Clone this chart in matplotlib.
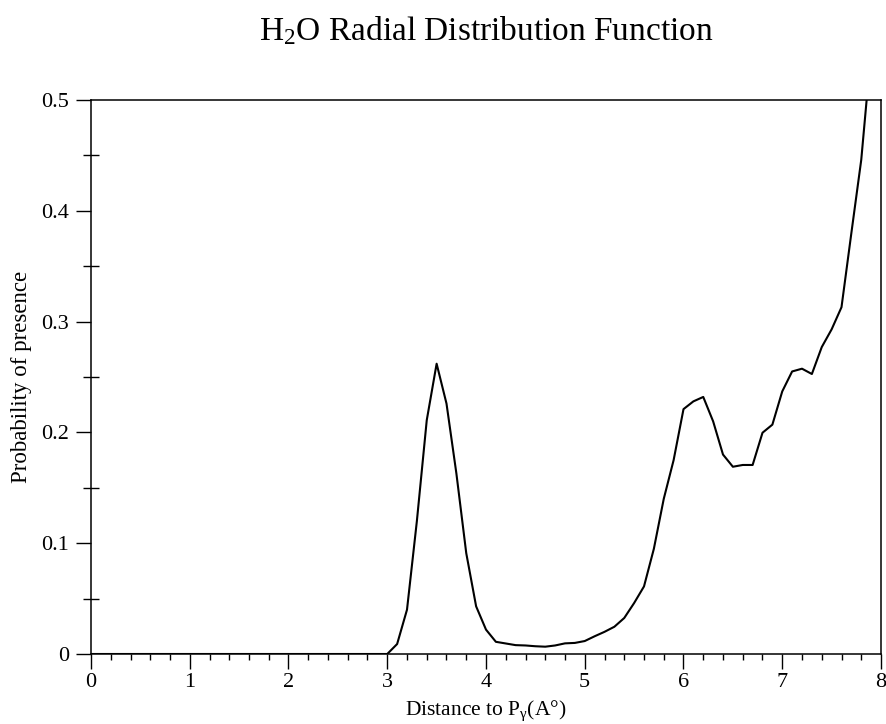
import numpy as np
import matplotlib
matplotlib.use("Agg")
import matplotlib.pyplot as plt
from matplotlib.ticker import MultipleLocator

plt.rcParams['font.family'] = ['Liberation Serif', 'DejaVu Serif']
plt.rcParams['mathtext.fontset'] = 'custom'
plt.rcParams['mathtext.rm'] = 'Liberation Serif'
plt.rcParams['mathtext.it'] = 'Liberation Serif'

# -------------------------------
# Data: distance bins (A) and probability
# -------------------------------
distance = np.round(np.arange(0.0, 8.0, 0.1), 1)
probability = [
    0, 0, 0, 0, 0, 0, 0, 0, 0, 0,
    0, 0, 0, 0, 0, 0, 0, 0, 0, 0,
    0, 0, 0, 0, 0, 0, 0, 0, 0, 0,
    0.0, 0.009, 0.040, 0.120, 0.211, 0.262, 0.226, 0.163, 0.091, 0.043,
    0.022, 0.011, 0.0095, 0.008, 0.0077, 0.007, 0.0066, 0.0077, 0.0096, 0.010,
    0.0117, 0.016, 0.020, 0.0246, 0.0325, 0.046, 0.061, 0.095, 0.140, 0.175,
    0.221, 0.228, 0.232, 0.210, 0.180, 0.169, 0.1706, 0.1706, 0.1997, 0.207,
    0.237, 0.255, 0.2575, 0.2527, 0.277, 0.293, 0.313, 0.380, 0.446, 0.545,
]

xticks = [0, 1, 2, 3, 4, 5, 6, 7, 8]
yticks = [0, 0.1, 0.2, 0.3, 0.4, 0.5]
ytick_labels = ['0', '0.1', '0.2', '0.3', '0.4', '0.5']

# -------------------------------
# Plot
# -------------------------------
fig = plt.figure(figsize=(8.87, 7.24), dpi=100)
ax = fig.add_axes([91 / 887, 70 / 724, 790 / 887, 554 / 724])

ax.plot(distance, probability, color='black', linewidth=1.5, clip_on=True)

ax.set_xlim(0, 8)
ax.set_ylim(0, 0.5)
ax.set_xticks(xticks)
ax.set_xticklabels([str(t) for t in xticks])
ax.set_yticks(yticks)
ax.set_yticklabels(ytick_labels)
ax.xaxis.set_minor_locator(MultipleLocator(0.2))
ax.yaxis.set_minor_locator(MultipleLocator(0.05))

ax.tick_params(which='major', direction='out', length=11, width=1.0,
               labelsize=16, pad=5, top=False, right=False)
ax.tick_params(axis='x', which='major', pad=3)
ax.tick_params(axis='x', which='minor', direction='out', length=4.5, width=1.0,
               top=False)
ax.tick_params(axis='y', which='minor', direction='inout', length=11.5, width=1.0,
               right=False)

for s in ax.spines.values():
    s.set_linewidth(1.1)

fig.text(486 / 887, 1 - 40 / 724, 'H$_2$O Radial Distribution Function',
         ha='center', va='baseline', fontsize=24)
fig.text(486 / 887, 1 - 715 / 724, 'Distance to P$_\\gamma$(A°)',
         ha='center', va='baseline', fontsize=15.5)
fig.text(22 / 887, 1 - 377 / 724, 'Probability of presence',
         ha='center', va='center', rotation=90, fontsize=16.5)

fig.savefig('out.png', dpi=100)
